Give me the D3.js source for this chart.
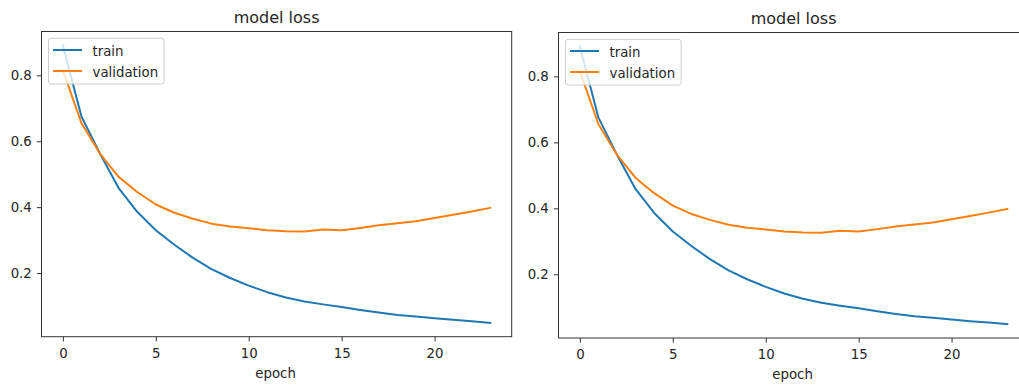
<!DOCTYPE html>
<html><head><meta charset="utf-8">
<script src="https://cdn.jsdelivr.net/npm/d3@7"></script>
<style>
body{margin:0;background:#fff;overflow:hidden}
svg{display:block;font-family:"DejaVu Sans",sans-serif}
</style>
</head><body>
<svg id="chart" width="1019" height="385"></svg>
<script>
// ---- data ----
const epochs = [0,1,2,3,4,5,6,7,8,9,10,11,12,13,14,15,16,17,18,19,20,21,22,23];
const trainLoss = [0.891,0.675,0.562,0.458,0.386,0.330,0.286,0.246,0.212,0.185,0.162,0.142,0.126,0.114,0.105,0.097,0.088,0.080,0.073,0.068,0.063,0.058,0.054,0.049];
const valLoss = [0.815,0.655,0.562,0.492,0.446,0.408,0.383,0.365,0.350,0.341,0.336,0.330,0.327,0.326,0.332,0.330,0.337,0.345,0.351,0.357,0.367,0.377,0.387,0.398];
const xTicks = [0,5,10,15,20];
const yTicks = [0.2,0.4,0.6,0.8];
const seriesNames = ["train","validation"];
const seriesColors = ["#1f77b4","#ff7f0e"];
const titleText = "model loss";
const xLabelText = "epoch";

// ---- layout ----
const panels = [
  {left:41.5, top:31.5, width:470.2, height:305.2},
  {left:558.5, top:32.5, width:470.2, height:305.5}
];
const textColor = "#262626";
const fontTick = 13.33, fontTitle = 16;

const svg = d3.select("#chart");
const seriesData = [trainLoss, valLoss];

function padded(arr){
  const lo = d3.min(arr), hi = d3.max(arr), m = (hi-lo)*0.05;
  return [lo-m, hi+m];
}
const xDom = padded(epochs);
const yDom = padded(trainLoss.concat(valLoss));

panels.forEach((p, pi) => {
  const g = svg.append("g");
  const x = d3.scaleLinear().domain(xDom).range([p.left, p.left+p.width]);
  const y = d3.scaleLinear().domain(yDom).range([p.top+p.height, p.top]);

  const clipId = "clip"+pi;
  g.append("clipPath").attr("id", clipId).append("rect")
    .attr("x", p.left).attr("y", p.top).attr("width", p.width).attr("height", p.height);

  // lines
  const line = d3.line().x((d,i)=>x(epochs[i])).y(d=>y(d));
  seriesData.forEach((s, si) => {
    g.append("path").datum(s)
      .attr("clip-path", `url(#${clipId})`)
      .attr("d", line)
      .attr("fill","none")
      .attr("stroke", seriesColors[si])
      .attr("stroke-width", 2)
      .attr("stroke-linejoin","round")
      .attr("stroke-linecap","square");
  });

  // axes
  const xAxis = d3.axisBottom(x).tickValues(xTicks).tickFormat(d3.format("d"))
    .tickSize(4.67).tickPadding(7);
  const yAxis = d3.axisLeft(y).tickValues(yTicks).tickFormat(d3.format(".1f"))
    .tickSize(4.67).tickPadding(5);

  const gx = g.append("g").attr("transform", `translate(0,${p.top+p.height})`).call(xAxis);
  const gy = g.append("g").attr("transform", `translate(${p.left},0)`).call(yAxis);
  [gx, gy].forEach(a => {
    a.select(".domain").remove();
    a.selectAll(".tick line").attr("stroke", "#333").attr("stroke-width", 1);
    a.selectAll(".tick text").attr("fill", textColor)
      .style("font-size", fontTick+"px").style("font-family", '"DejaVu Sans",sans-serif');
  });

  // spines
  g.append("rect").attr("x", p.left).attr("y", p.top)
    .attr("width", p.width).attr("height", p.height)
    .attr("fill","none").attr("stroke","#333").attr("stroke-width",1);

  // title
  g.append("text").attr("x", p.left + p.width/2).attr("y", p.top - 8.5)
    .attr("text-anchor","middle").attr("fill", textColor)
    .style("font-size", fontTitle+"px").text(titleText);

  // x label
  g.append("text").attr("x", p.left + p.width/2 - 1).attr("y", p.top + p.height + 41)
    .attr("text-anchor","middle").attr("fill", textColor)
    .style("font-size", fontTick+"px").text(xLabelText);

  // legend
  const lg = g.append("g").attr("transform", `translate(${p.left+7},${p.top+6.8})`);
  const box = lg.append("rect").attr("rx",2.7).attr("ry",2.7)
    .attr("fill","#fff").attr("fill-opacity",0.8)
    .attr("stroke","#cccccc").attr("stroke-width",1);
  let maxW = 0;
  seriesNames.forEach((name, i) => {
    const cy = 11.7 + i*21;
    lg.append("line").attr("x1",4.5).attr("x2",33.5).attr("y1",cy).attr("y2",cy)
      .attr("stroke", seriesColors[i]).attr("stroke-width",2);
    const t = lg.append("text").attr("x",44).attr("y",cy+5.8)
      .attr("fill", textColor).style("font-size", fontTick+"px").text(name);
    maxW = Math.max(maxW, t.node().getComputedTextLength());
  });
  box.attr("x",0).attr("y",0).attr("width", 44 + maxW + 6).attr("height", 45.7);
});
</script>
</body></html>
